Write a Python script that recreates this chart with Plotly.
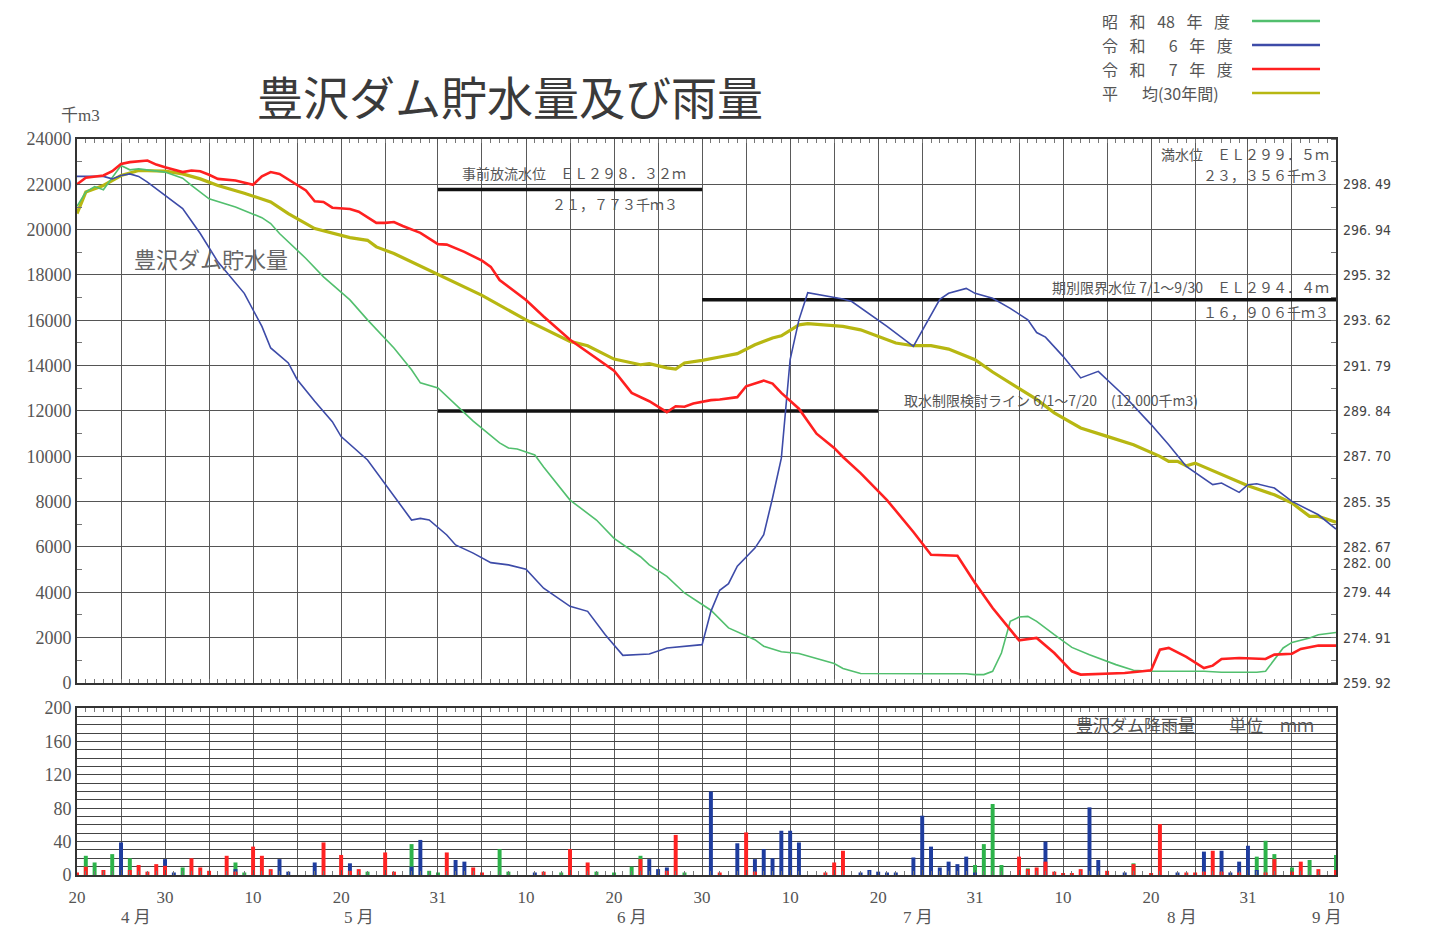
import pandas as pd
import plotly.graph_objects as go

YEAR = 2025

# ---------------- storage (千m3) ----------------
s48_dates = ["04-20","04-21","04-22","04-23","04-25","04-26","04-27","04-30","05-02","05-03","05-05","05-08","05-11","05-12","05-13","05-16","05-18","05-21","05-23","05-26","05-28","05-29","05-31","06-01","06-04","06-07","06-08","06-09","06-11","06-12","06-15","06-18","06-20","06-23","06-24","06-26","06-28","07-01","07-03","07-06","07-07","07-09","07-11","07-13","07-15","07-16","07-18","07-26","07-30","07-31","08-01","08-02","08-03","08-04","08-05","08-06","08-07","08-09","08-11","08-13","08-16","08-18","08-20","08-26","08-28","09-01","09-02","09-04","09-05","09-07","09-08","09-10"]
s48_vals = [21030,21660,21900,21760,22830,22640,22680,22540,22270,21950,21360,21000,20530,20270,19830,18730,17920,16900,16020,14780,13820,13240,13020,12650,11550,10590,10370,10320,10060,9530,8070,7190,6380,5570,5210,4700,3970,3210,2430,1910,1620,1380,1300,1080,860,640,420,410,410,370,370,515,1320,2720,2910,2940,2720,2130,1570,1250,810,560,515,515,470,470,515,1545,1790,1985,2130,2230]

r6_dates = ["04-20","04-23","04-24","04-25","04-26","04-27","04-28","04-30","05-02","05-04","05-06","05-09","05-11","05-12","05-14","05-15","05-17","05-19","05-20","05-23","05-26","05-28","05-29","05-30","06-01","06-02","06-04","06-06","06-08","06-10","06-12","06-15","06-17","06-19","06-21","06-24","06-26","06-28","06-30","07-01","07-02","07-03","07-04","07-06","07-07","07-08","07-09","07-10","07-11","07-12","07-16","07-17","07-21","07-24","07-27","07-28","07-30","07-31","08-02","08-04","08-06","08-07","08-08","08-10","08-12","08-14","08-15","08-17","08-20","08-22","08-24","08-27","08-28","08-30","08-31","09-01","09-03","09-05","09-08","09-10"]
r6_vals = [22350,22350,22240,22390,22460,22350,22100,21510,20930,19830,18580,17190,15730,14780,14120,13390,12430,11530,10870,9840,8220,7190,7260,7190,6530,6090,5730,5310,5210,5020,4180,3380,3160,2130,1220,1280,1540,1620,1690,3160,4090,4380,5150,5950,6540,8160,9920,14270,16020,17220,16940,16830,15730,14850,16930,17190,17410,17190,16970,16530,16020,15460,15260,14410,13460,13750,13380,12650,11400,10510,9555,8750,8820,8410,8750,8790,8600,8010,7420,6790]

r7_dates = ["04-20","04-21","04-23","04-24","04-25","04-26","04-28","04-29","04-30","05-02","05-03","05-04","05-05","05-06","05-08","05-09","05-10","05-11","05-12","05-13","05-14","05-16","05-17","05-18","05-19","05-21","05-22","05-23","05-24","05-25","05-26","05-27","05-29","05-31","06-01","06-03","06-05","06-06","06-07","06-10","06-12","06-15","06-17","06-20","06-22","06-24","06-26","06-27","06-28","06-29","07-01","07-02","07-04","07-05","07-07","07-08","07-09","07-11","07-13","07-15","07-16","07-18","07-21","07-24","07-26","07-29","07-31","08-02","08-05","08-07","08-09","08-11","08-12","08-17","08-19","08-20","08-21","08-22","08-24","08-26","08-27","08-28","08-30","09-02","09-03","09-05","09-06","09-08","09-10"]
r7_vals = [22000,22290,22390,22580,22900,22980,23050,22870,22750,22540,22610,22580,22420,22240,22170,22070,21980,22350,22540,22460,22210,21730,21250,21220,20970,20910,20790,20530,20300,20300,20340,20160,19860,19360,19340,19020,18630,18360,17780,16900,16170,15140,14590,13780,12800,12430,11950,12210,12190,12330,12480,12510,12610,13090,13340,13210,12800,12100,11000,10370,9970,9260,8070,6660,5660,5615,4410,3310,1880,1985,1320,515,370,440,515,560,1470,1545,1150,660,765,1060,1100,1060,1250,1290,1500,1650,1650]

avg_dates = ["04-20","04-21","04-23","04-24","04-25","04-27","04-30","05-02","05-04","05-06","05-09","05-12","05-14","05-17","05-21","05-23","05-24","05-26","05-28","05-31","06-05","06-10","06-15","06-17","06-20","06-23","06-24","06-26","06-27","06-28","06-30","07-02","07-04","07-06","07-08","07-09","07-11","07-12","07-16","07-18","07-20","07-22","07-24","07-26","07-28","07-31","08-02","08-04","08-07","08-09","08-12","08-15","08-18","08-21","08-22","08-23","08-24","08-25","08-28","08-31","09-03","09-05","09-07","09-08","09-10"]
avg_vals = [20710,21660,21950,22170,22390,22610,22580,22460,22240,21950,21610,21220,20710,20050,19650,19530,19240,18950,18580,18000,17100,16020,15070,14880,14290,14040,14090,13900,13850,14120,14230,14380,14530,14920,15220,15320,15800,15850,15730,15580,15300,15000,14880,14880,14730,14260,13720,13240,12510,11920,11250,10880,10510,10000,9780,9780,9580,9700,9190,8700,8300,7940,7350,7350,7090]

# ---------------- rainfall (mm) ----------------
rain48_dates = ["04-21","04-22","04-24","04-26","05-02","05-08","05-09","05-23","05-28","05-30","05-31","06-07","06-08","06-14","06-18","06-20","06-22","06-23","06-28","07-31","08-01","08-02","08-03","08-06","08-18","09-01","09-02","09-03","09-05","09-07","09-10"]
rain48_vals = [23,15,25,20,9,15,3,4,37,5,3,31,4,3,4,3,10,23,3,12,37,85,12,8,14,22,41,25,9,18,24]

rain6_dates = ["04-25","04-30","05-01","05-08","05-13","05-14","05-17","05-21","05-28","05-29","06-02","06-03","06-11","06-24","06-25","06-26","07-01","07-04","07-06","07-07","07-08","07-09","07-10","07-11","07-18","07-19","07-20","07-21","07-22","07-24","07-25","07-26","07-27","07-28","07-29","07-30","07-31","08-08","08-13","08-14","08-17","08-23","08-26","08-28","08-29","08-30","08-31","09-01"]
rain6_vals = [39,19,3,7,19,4,15,14,10,42,18,16,3,19,7,9,100,38,19,31,20,53,53,39,3,6,4,3,3,21,71,34,9,16,13,22,3,40,81,18,3,3,28,29,3,16,35,6]

rain7_dates = ["04-20","04-21","04-23","04-26","04-27","04-28","04-29","04-30","05-03","05-04","05-05","05-07","05-08","05-10","05-11","05-12","05-18","05-20","05-21","05-22","05-25","05-26","06-01","06-04","06-05","06-12","06-15","06-17","06-23","06-26","06-27","07-02","07-05","07-06","07-14","07-15","07-16","08-05","08-06","08-07","08-08","08-09","08-10","08-11","08-12","08-15","08-18","08-20","08-21","08-24","08-25","08-26","08-27","08-28","08-30","09-02","09-03","09-05","09-06","09-08","09-10"]
rain7_vals = [3,10,6,6,12,4,13,11,20,9,5,23,4,34,23,7,39,24,5,7,27,4,27,9,3,4,31,15,19,5,48,3,51,4,3,15,29,22,7,9,16,4,2,2,7,5,13,2,61,3,3,4,29,4,3,3,19,4,16,7,6]

# ---------------- reference levels ----------------
thr_values = [21773, 16906, 12000]
thr_start = ["05-31", "06-30", "05-31"]
thr_end = ["06-30", "09-10", "07-20"]

# ---------------- axes ----------------
x_start, x_end = "04-20", "09-10"
grid_dates = ["04-20","04-25","04-30","05-05","05-10","05-15","05-20","05-25","05-31",
              "06-05","06-10","06-15","06-20","06-25","06-30","07-05","07-10","07-15",
              "07-20","07-25","07-31","08-05","08-10","08-15","08-20","08-25","08-31",
              "09-05","09-10"]
grid_labels = ["20","","30","","10","","20","","31","","10","","20","","30","","10","",
               "20","","31","","10","","20","","31","","10"]
month_labels = ["4 月","5 月","6 月","7 月","8 月","9 月"]
month_dates = ["04-26 18:00","05-22","06-22","07-24 12:00","08-23 12:00","09-09"]

elev_vals = [22000,20000,18000,16000,14000,12000,10000,8000,6000,5300,4000,2000,0]
elev_text = ["298. 49","296. 94","295. 32","293. 62","291. 79","289. 84","287. 70",
             "285. 35","282. 67","282. 00","279. 44","274. 91","259. 92"]

SP = "\u2002\u00a0"
legend_names = ["昭" + SP + "和" + SP + "48" + SP + "年" + SP + "度",
                "令" + SP + "和" + SP + "\u2002\u00a06\u00a0\u2002" + "年" + SP + "度",
                "令" + SP + "和" + SP + "\u2002\u00a07\u00a0\u2002" + "年" + SP + "度",
                "平\u3000\u2002均(30年間)"]

C48, C6, C7, CAV = "#52BF6E", "#3D4BA8", "#FF2020", "#B7B712"
B48, B6, B7 = "#2DB34A", "#1E3C9E", "#FF2222"

JP = "Noto Sans CJK JP"
SERIF = "Liberation Serif, Noto Sans CJK JP"


def d(md):
    return pd.Timestamp(f"{YEAR}-{md}")


def dl(lst):
    return [d(m) for m in lst]


fig = go.Figure()

# reference level lines
for v, a, b in zip(thr_values, thr_start, thr_end):
    fig.add_trace(go.Scatter(x=[d(a), d(b)], y=[v, v], mode="lines",
                             line=dict(color="#111111", width=3.5),
                             xaxis="x2", yaxis="y2", hoverinfo="skip", showlegend=False))

# storage lines
for dates, vals, col, w in [(avg_dates, avg_vals, CAV, 3.2),
                            (s48_dates, s48_vals, C48, 1.6),
                            (r6_dates, r6_vals, C6, 1.6),
                            (r7_dates, r7_vals, C7, 2.6)]:
    fig.add_trace(go.Scatter(x=dl(dates), y=vals, mode="lines",
                             line=dict(color=col, width=w),
                             xaxis="x2", yaxis="y2", showlegend=False))

# invisible anchor for the elevation axis
fig.add_trace(go.Scatter(x=[d(x_start)], y=[elev_vals[-1]], mode="markers",
                         marker=dict(opacity=0), xaxis="x2", yaxis="y3",
                         hoverinfo="skip", showlegend=False))

# rainfall bars
bw = 0.45 * 86400000
for dates, vals, col in [(rain48_dates, rain48_vals, B48),
                         (rain6_dates, rain6_vals, B6),
                         (rain7_dates, rain7_vals, B7)]:
    fig.add_trace(go.Bar(x=dl(dates), y=vals, width=bw, marker=dict(color=col, line=dict(width=0)),
                         xaxis="x", yaxis="y", showlegend=False))

xcommon = dict(type="date", range=[d(x_start), d(x_end)], tickmode="array",
               tickvals=dl(grid_dates), ticktext=grid_labels,
               showgrid=True, gridcolor="#5a5a5a", gridwidth=1.3,
               ticks="inside", ticklen=5, tickcolor="#555",
               minor=dict(dtick=86400000, tick0=d(x_start), ticks="inside",
                          ticklen=4, tickcolor="#777", showgrid=False),
               showline=True, linecolor="#333", linewidth=2, mirror="ticks",
               tickfont=dict(family=SERIF, size=17, color="#555"),
               ticklabelstandoff=6)

# the page body adds an 8px offset, so the figure is 8px smaller on each axis
fig.update_layout(
    width=1422, height=923,
    paper_bgcolor="white", plot_bgcolor="white",
    margin=dict(l=69, r=94, t=131, b=56),
    barmode="overlay",
    font=dict(family=SERIF, color="#555"),
    xaxis=dict(**xcommon, anchor="y"),
    xaxis2=dict(**xcommon, anchor="y2", matches="x", showticklabels=False),
    yaxis=dict(domain=[0, 0.2269], range=[0, 200], tickmode="array",
               tickvals=list(range(0, 201, 10)),
               ticktext=[str(v) if v % 40 == 0 else "" for v in range(0, 201, 10)],
               showgrid=True, gridcolor="#444", gridwidth=1, zeroline=False,
               showline=True, linecolor="#333", linewidth=2, mirror=True,
               ticks="", tickfont=dict(family=SERIF, size=18, color="#555")),
    yaxis2=dict(domain=[0.2609, 1], range=[0, 24000], tickmode="linear", tick0=0, dtick=2000,
                tickformat="d", showgrid=True, gridcolor="#555", gridwidth=1.3, zeroline=False,
                showline=True, linecolor="#333", linewidth=2, mirror=True,
                ticks="inside", ticklen=5, tickcolor="#555",
                minor=dict(dtick=1000, ticks="inside", ticklen=5, tickcolor="#777", showgrid=False),
                tickfont=dict(family=SERIF, size=18, color="#555"), anchor="x2"),
    yaxis3=dict(overlaying="y2", side="right", anchor="x2", range=[0, 24000],
                tickmode="array", tickvals=elev_vals, ticktext=elev_text,
                showgrid=False, zeroline=False, showline=False,
                ticks="", minor=dict(dtick=1000, ticks="inside", ticklen=5, tickcolor="#777"),
                ticklabelstandoff=6,
                tickfont=dict(family="Liberation Sans Narrow, DejaVu Sans Condensed, Liberation Sans",
                              size=14, color="#444")),
)

ann = []
# title and unit
ann.append(dict(text="豊沢ダム貯水量及び雨量", xref="paper", yref="paper", x=0.344, y=1.0598,
                xanchor="center", yanchor="middle", showarrow=False,
                font=dict(family=JP, size=46, color="#3a3a3a")))
ann.append(dict(text="千m3", xref="paper", yref="paper", x=0.0024, y=1.0326,
                xanchor="center", yanchor="middle", showarrow=False,
                font=dict(family=SERIF, size=17, color="#555")))
# month labels
for t, md in zip(month_labels, month_dates):
    ann.append(dict(text=t, xref="x", yref="paper", x=d(md), y=-0.0584,
                    xanchor="center", yanchor="middle", showarrow=False,
                    font=dict(family=SERIF, size=17, color="#555")))

txt_font = dict(family=JP, size=14, color="#555")
in_chart = [
    ("豊沢ダム貯水量", "04-26 06:00", 18750, "left", dict(family=JP, size=22, color="#666")),
    ("事前放流水位　ＥＬ２９８．３２ｍ", "06-02 12:00", 22500, "left", txt_font),
    ("２１，７７３千ｍ３", "06-27 12:00", 21130, "right", txt_font),
    ("満水位　ＥＬ２９９．５ｍ", "09-09 10:00", 23330, "right", txt_font),
    ("２３，３５６千ｍ３", "09-09 10:00", 22410, "right", txt_font),
    ("期別限界水位 7/1～9/30　ＥＬ２９４．４ｍ", "09-09 10:00", 17470, "right", txt_font),
    ("１６，９０６千ｍ３", "09-09 10:00", 16370, "right", txt_font),
    ("取水制限検討ライン 6/1～7/20　(12,000千m3)", "07-22 17:00", 12480, "left", txt_font),
]
for t, md, yv, xa, f in in_chart:
    ann.append(dict(text=t, xref="x2", yref="y2", x=d(md), y=yv, xanchor=xa,
                    yanchor="middle", showarrow=False, font=f, bgcolor="rgba(0,0,0,0)"))
ann.append(dict(text="豊沢ダム降雨量　　単位　ｍｍ", xref="x", yref="y", x=d("08-11 07:00"), y=180,
                xanchor="left", yanchor="middle", showarrow=False,
                font=dict(family=JP, size=17, color="#555")))

# custom legend (text left, line right)
shapes = []
leg_y = [1.1603, 1.1277, 1.0951, 1.0625]
for name, col, yy in zip(legend_names, [C48, C6, C7, CAV], leg_y):
    ann.append(dict(text=name, xref="paper", yref="paper", x=0.8125, y=yy,
                    xanchor="left", yanchor="middle", showarrow=False,
                    font=dict(family=JP, size=16, color="#555")))
    shapes.append(dict(type="line", xref="paper", yref="paper", x0=0.9333, x1=0.9873,
                       y0=yy, y1=yy, line=dict(color=col, width=2.5)))

fig.update_layout(annotations=ann, shapes=shapes)

fig.write_html("out.html")
